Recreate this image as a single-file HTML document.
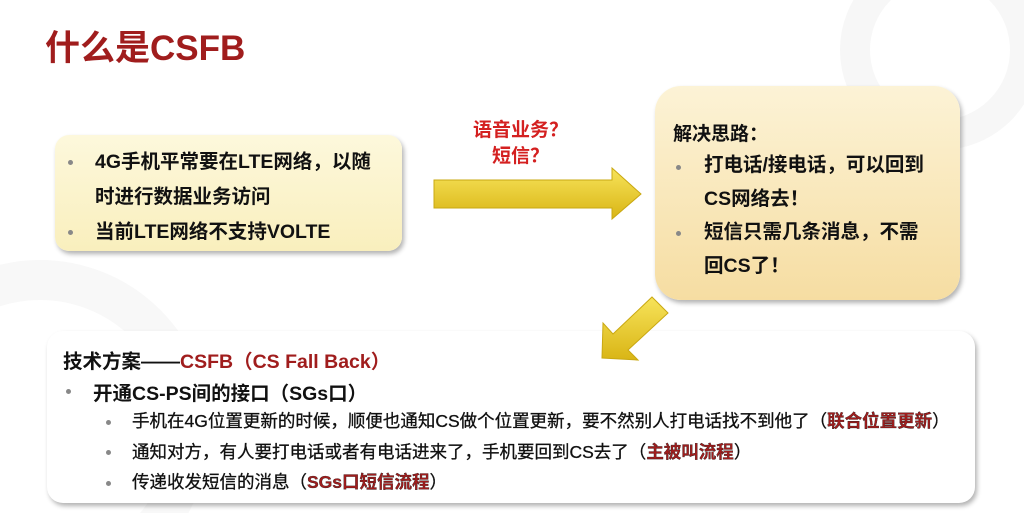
<!DOCTYPE html>
<html><head><meta charset="utf-8"><style>
html,body{margin:0;width:1024px;height:513px;overflow:hidden}
body{background:#fff;font-family:"Liberation Sans","Noto Sans CJK SC",sans-serif;position:relative}
.t{position:absolute;white-space:nowrap;font-weight:bold;color:#111}
.r{color:#a01d1d}
.box{position:absolute;box-shadow:2px 3px 5px rgba(0,0,0,.3)}
.dot{position:absolute;width:5px;height:5px;border-radius:50%;background:#888}
</style></head><body>
<svg style="position:absolute;left:0;top:0" width="1024" height="513">
<circle cx="940" cy="50" r="85" fill="none" stroke="#f7f7f7" stroke-width="30"/>
<circle cx="40" cy="430" r="150" fill="none" stroke="#f8f8f8" stroke-width="40"/>
</svg>
<div class="t r" style="left:45px;top:20px;font-size:35px">什么是CSFB</div>
<div class="box" style="left:55px;top:135px;width:347px;height:116px;border-radius:14px;background:linear-gradient(#fdf8dc,#f9efbd)"></div>
<div class="dot" style="left:68px;top:160px"></div><div class="dot" style="left:68px;top:230px"></div>
<div class="t" style="left:95px;top:145px;font-size:19.5px;line-height:35px">4G手机平常要在LTE网络，以随<br>时进行数据业务访问<br>当前LTE网络不支持VOLTE</div>
<div class="t r" style="left:473px;top:118px;font-size:19px;line-height:26px;text-align:center;color:#d42020">语音业务？<br>短信？</div>
<div class="box" style="left:655px;top:86px;width:305px;height:214px;border-radius:26px;background:linear-gradient(#fcf3d6,#f6dda2)"></div>
<div class="t" style="left:673px;top:119px;font-size:19px">解决思路：</div>
<div class="dot" style="left:676px;top:165px"></div><div class="dot" style="left:676px;top:231px"></div>
<div class="t" style="left:704px;top:149px;font-size:19.5px;line-height:33.5px">打电话/接电话，可以回到<br>CS网络去！<br>短信只需几条消息，不需<br>回CS了！</div>
<div class="box" style="left:47px;top:331px;width:928px;height:172px;border-radius:16px;background:#fff"></div>
<svg style="position:absolute;left:0;top:0" width="1024" height="513">
<defs><linearGradient id="g" x1="0" y1="0" x2="0" y2="1"><stop offset="0" stop-color="#f7e35a"/><stop offset="1" stop-color="#d9b515"/></linearGradient></defs>
<polygon points="434,180 612,180 612,168 641,194 612,219 612,208 434,208" fill="url(#g)" stroke="#c9a812"/>
<polygon points="652,297 668,313 628,350 638,360 602,358 603,323 613,334" fill="url(#g)" stroke="#c9a812"/>
</svg>
<div class="t" style="left:63px;top:345px;font-size:19.5px">技术方案——<span class="r">CSFB（CS Fall Back）</span></div>
<div class="dot" style="left:66px;top:389px"></div>
<div class="t" style="left:93px;top:377px;font-size:19.5px">开通CS-PS间的接口（SGs口）</div>
<div class="dot" style="left:106px;top:420px"></div><div class="dot" style="left:106px;top:450px"></div><div class="dot" style="left:106px;top:481px"></div>
<div class="t" style="left:132px;top:406px;font-size:17.5px;line-height:30.5px;font-weight:normal;-webkit-text-stroke:.3px #111">手机在4G位置更新的时候，顺便也通知CS做个位置更新，要不然别人打电话找不到他了（<span class="r" style="font-weight:bold">联合位置更新</span>）<br>通知对方，有人要打电话或者有电话进来了，手机要回到CS去了（<span class="r" style="font-weight:bold">主被叫流程</span>）<br>传递收发短信的消息（<span class="r" style="font-weight:bold">SGs口短信流程</span>）</div>
</body></html>
